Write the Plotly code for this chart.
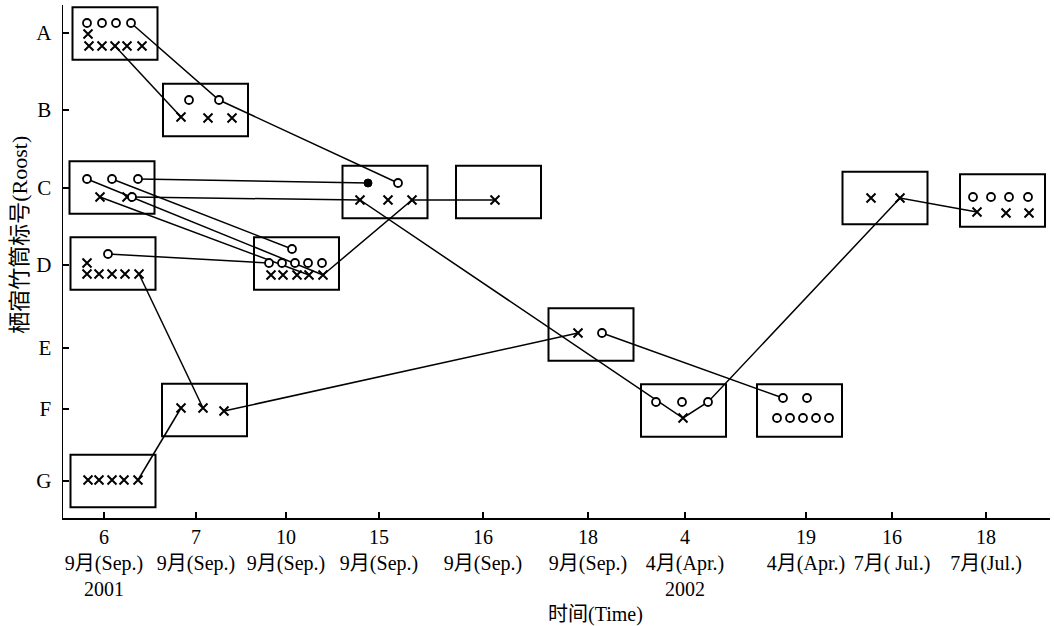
import plotly.graph_objects as go

# ---------------- data ----------------
# y positions of roost ticks (axis units)
roost_labels = ["A", "B", "C", "D", "E", "F", "G"]
roost_pos = [5.67, 4.90, 4.12, 3.35, 2.52, 1.91, 1.19]

# x positions of the dates (axis units)
date_pos = [1.04, 1.96, 2.86, 3.79, 4.83, 5.88, 6.85, 8.06, 8.92, 9.86]
date_labels = [
    "6<br>9月(Sep.)<br>2001", "7<br>9月(Sep.)", "10<br>9月(Sep.)", "15<br>9月(Sep.)",
    "16<br>9月(Sep.)", "18<br>9月(Sep.)", "4<br>4月(Apr.)<br>2002", "19<br>4月(Apr.)",
    "16<br>7月( Jul.)", "18<br>7月(Jul.)",
]

# open circles
circle_x = [0.87, 1.02, 1.16, 1.31,
            1.89, 2.19,
            0.87, 1.12, 1.38, 1.32,
            1.08,
            2.92, 2.69, 2.82, 2.95, 3.08, 3.22,
            3.98,
            6.02,
            6.56, 6.82, 7.08,
            7.83, 8.07, 7.77, 7.90, 8.03, 8.16, 8.29,
            9.73, 9.91, 10.09, 10.28]
circle_y = [5.77, 5.77, 5.77, 5.77,
            5.00, 5.00,
            4.21, 4.21, 4.21, 4.03,
            3.46,
            3.51, 3.37, 3.37, 3.37, 3.37, 3.37,
            4.17,
            2.67,
            1.98, 1.98, 1.98,
            2.02, 2.02, 1.82, 1.82, 1.82, 1.82, 1.82,
            4.03, 4.03, 4.03, 4.03]

# filled circle
dot_x = [3.68]
dot_y = [4.17]

# crosses
cross_x = [0.88, 0.89, 1.02, 1.15, 1.27, 1.42,
           1.81, 2.08, 2.32,
           1.00, 1.27,
           0.87, 0.87, 0.99, 1.12, 1.25, 1.39,
           2.71, 2.83, 2.97, 3.09, 3.23,
           3.60, 3.88, 4.12,
           4.95,
           5.78,
           6.83,
           8.71, 9.00,
           9.77, 10.06, 10.29,
           1.81, 2.03, 2.24,
           0.88, 0.99, 1.12, 1.24, 1.38]
cross_y = [5.66, 5.54, 5.54, 5.54, 5.54, 5.54,
           4.83, 4.82, 4.82,
           4.03, 4.03,
           3.37, 3.26, 3.26, 3.26, 3.26, 3.26,
           3.25, 3.25, 3.25, 3.25, 3.25,
           4.00, 4.00, 4.00,
           4.00,
           2.67,
           1.82,
           4.02, 4.02,
           3.88, 3.87, 3.87,
           1.92, 1.92, 1.89,
           1.20, 1.20, 1.20, 1.20, 1.20]

# movement tracks (polylines)
tracks = [
    ([1.31, 2.19, 3.98], [5.77, 5.00, 4.17]),
    ([1.15, 1.81], [5.54, 4.83]),
    ([1.38, 3.68], [4.21, 4.17]),
    ([1.32, 3.60, 6.83, 7.08, 9.00, 9.77], [4.03, 4.00, 1.82, 1.98, 4.02, 3.88]),
    ([1.12, 2.92], [4.21, 3.51]),
    ([0.87, 3.23], [4.21, 3.25]),
    ([1.00, 3.09], [4.03, 3.25]),
    ([1.08, 2.69], [3.46, 3.37]),
    ([3.23, 4.12, 4.95], [3.25, 4.00, 4.00]),
    ([1.39, 2.03], [3.26, 1.92]),
    ([1.38, 1.81], [1.20, 1.92]),
    ([2.24, 5.78], [1.89, 2.67]),
    ([6.02, 7.83], [2.67, 2.02]),
]

# boxes (centres)
box_x = [1.15, 2.055, 1.12, 1.13, 2.965, 3.85, 4.985, 5.91, 6.835, 7.995, 8.85, 10.025, 2.045, 1.13]
box_y = [5.665, 4.90, 4.125, 3.365, 3.365, 4.08, 4.08, 2.655, 1.895, 1.895, 4.02, 3.995, 1.90, 1.19]

# ---------------- figure ----------------
BOX_HW = 0.425
BOX_HH = 0.262
FONT = "Liberation Serif, Times New Roman, Noto Sans CJK SC, serif"

fig = go.Figure()

for tx, ty in tracks:
    fig.add_trace(go.Scatter(x=tx, y=ty, mode="lines",
                             line=dict(color="black", width=1.5),
                             hoverinfo="skip", showlegend=False, cliponaxis=False))

fig.add_trace(go.Scatter(x=cross_x, y=cross_y, mode="markers",
                         marker=dict(symbol="x-thin", size=9,
                                     line=dict(color="black", width=2)),
                         showlegend=False, cliponaxis=False))
fig.add_trace(go.Scatter(x=circle_x, y=circle_y, mode="markers",
                         marker=dict(symbol="circle", size=8, color="white",
                                     line=dict(color="black", width=1.8)),
                         showlegend=False, cliponaxis=False))
fig.add_trace(go.Scatter(x=dot_x, y=dot_y, mode="markers",
                         marker=dict(symbol="circle", size=8, color="black",
                                     line=dict(color="black", width=1)),
                         showlegend=False, cliponaxis=False))

shapes = []
for bx, by in zip(box_x, box_y):
    shapes.append(dict(type="rect", xref="x", yref="y",
                       x0=bx - BOX_HW, x1=bx + BOX_HW,
                       y0=by - BOX_HH, y1=by + BOX_HH,
                       line=dict(color="black", width=2),
                       fillcolor="rgba(0,0,0,0)", layer="below"))

fig.update_layout(
    width=1054, height=626,
    margin=dict(l=63, r=4, t=5, b=108, autoexpand=False),
    paper_bgcolor="white", plot_bgcolor="white",
    font=dict(family=FONT, size=19, color="black"),
    shapes=shapes,
    xaxis=dict(range=[0.63, 10.50], showgrid=False, zeroline=False, automargin=False,
               showline=True, linecolor="black", linewidth=1.5, mirror=False,
               ticks="inside", ticklen=6, tickwidth=1.2, tickcolor="black",
               tickvals=date_pos, ticktext=date_labels,
               tickfont=dict(family=FONT, size=20)),
    yaxis=dict(range=[0.82, 5.95], showgrid=False, zeroline=False, automargin=False,
               showline=True, linecolor="black", linewidth=1.5, mirror=False,
               ticks="inside", ticklen=6, tickwidth=1.2, tickcolor="black",
               tickvals=roost_pos, ticktext=roost_labels,
               tickfont=dict(family=FONT, size=21), ticklabelstandoff=6),
    annotations=[
        dict(text="时间(Time)", xref="paper", yref="paper", x=0.54, y=-0.189,
             showarrow=False, xanchor="center", yanchor="middle",
             font=dict(family=FONT, size=20)),
        dict(text="栖宿竹筒标号(Roost)", xref="paper", yref="paper", x=-0.0436, y=0.552,
             showarrow=False, xanchor="center", yanchor="middle", textangle=-90,
             font=dict(family=FONT, size=22)),
    ],
)

fig.write_html("out.html",
               config={"displayModeBar": False, "staticPlot": True},
               post_script="document.body.style.margin='0px';document.body.style.padding='0px';")
